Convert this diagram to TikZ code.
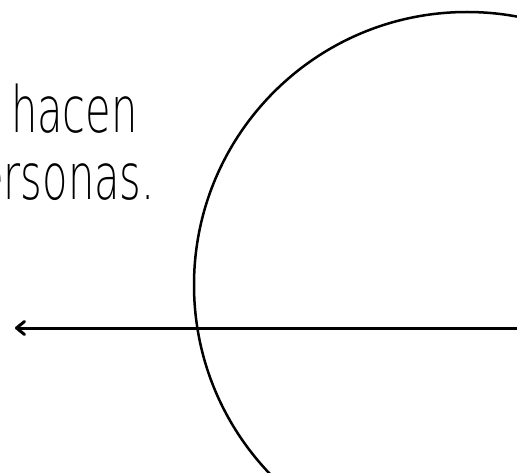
\documentclass[tikz,border=0pt]{standalone}
\usepackage{fontspec}
\newfontfamily\handfont[FakeStretch=0.65]{DejaVu Sans ExtraLight}
\usetikzlibrary{arrows.meta}
\tikzset{
  handtext/.style={inner sep=0pt, font=\handfont\fontsize{64}{64}\selectfont},
  ring/.style={line width=2.5pt},
  axisline/.style={line width=3pt, -{Straight Barb[length=8pt, width=13pt, line cap=round, line join=round]}}
}
\begin{document}
\begin{tikzpicture}[x=1pt,y=-1pt]
  \useasboundingbox (0,0) rectangle (517,473);
  \clip (0,0) rectangle (517,473);
  \node[handtext, anchor=base east] (l1) at (138,133) {hacen};
  \node[handtext, anchor=base east] (l2) at (155,200) {personas.};
  \draw[ring] (467,285) circle[radius=273];
  \coordinate (astart) at (520,328);
  \coordinate (aend) at (15,328);
  \draw[axisline] (astart) -- (aend);
\end{tikzpicture}
\end{document}
